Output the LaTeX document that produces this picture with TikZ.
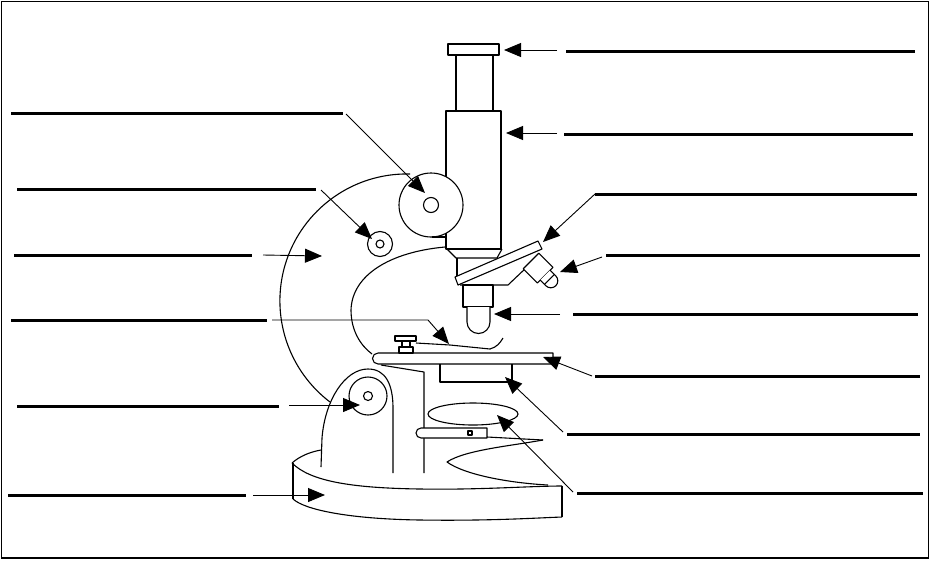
\documentclass[tikz,border=0pt]{standalone}
\usetikzlibrary{arrows.meta}
\begin{document}
\begin{tikzpicture}[x=1pt, y=-1pt,
    answerline/.style={line width=3pt},
    pointer/.style={line width=0.9pt, -{Triangle[length=17pt,width=14pt]}},
    part/.style={line width=1.1pt, line join=round}]
  \useasboundingbox (0,0) rectangle (933,560);
  \draw[line width=1.5pt] (1.5,1.5) rectangle (928.5,558);

  %%arm
    \draw[part](410,174) arc[start angle=-88.6, end angle=-232.7, radius=127];
    \draw[part](445,247) .. controls (390,252) and (352,275) .. (351,310)
      .. controls (351,330) and (360,345) .. (372,354);
  %%eyepiece and tube
    \draw[part](456,55) to (456,111);
    \draw[part](493,55) to (493,111);
    \draw[part, fill=white](448,44) rectangle (499,55);
    \draw[part, fill=white](446,111) rectangle (501,249);
  %%coarse knob
    \draw[part, fill=white](431,205) circle[radius=32];
    \draw[part](431,205) circle[radius=7.5];
    \draw[part](432,237) to (446,237);
  %%small knob
    \draw[part, fill=white](380,244) circle[radius=12.5];
    \draw[part](380,244) circle[radius=4];

  %%nosepiece
    \draw[part](447,249) -- (456,258) -- (497,258) -- (502,249);
    \draw[part](457,258) to (457,277);
    \draw[part, fill=white](455,277) -- (538,241) -- (542,249) -- (458,285) -- cycle;
    \draw[part](460,285) -- (508,285) -- (527,267);
  %%side objective
    \begin{scope}[shift={(531,261)}, rotate=-45]
      \draw[part, fill=white](0,-11) rectangle (20,11);
      \draw[part, fill=white](20,-7) -- (28,-7) arc[start angle=-90, end angle=90, radius=7] -- (20,7);
      \draw[part](26,-7) to (26,7);
    \end{scope}
  %%objective
    \draw[part, fill=white](463,285) rectangle (493,307);
    \draw[part, fill=white](467,307) -- (467,322) arc[start angle=180, end angle=0, radius=11.5] -- (490,307);

  %%stage
    \draw[part, fill=white](378,353) -- (553,353) -- (553,364) -- (378,364) arc[start angle=90, end angle=270, radius=5.5];
    \draw[part, fill=white](395,336) rectangle (416,341);
    \draw[part, fill=white](402,341) rectangle (410,347);
    \draw[part, fill=white](399,347) rectangle (413,353);
    \draw[part](416,343) -- (450,345) -- (490,349);
    \draw[part](490,349) .. controls (497,347) and (500,343) .. (503,338);
  %%condenser and pillar
    \draw[part](440,364) -- (440,382) -- (512,382) -- (512,364);
    \draw[part](381,365) -- (424,372) -- (424,473);
  %%fine knob housing
    \draw[part](321,467) -- (322,438) .. controls (325,400) and (345,369) .. (368,369)
      .. controls (386,369) and (393,385) .. (393,408) -- (393,473);
    \draw[part, fill=white](368,396) circle[radius=19];
    \draw[part](368,396) circle[radius=4.5];

  %%diaphragm, lever, mirror
    \draw[part](473,414) ellipse[x radius=45, y radius=11];
    \draw[part, fill=white](487,428) -- (421,428) arc[start angle=-90, end angle=-270, radius=5] -- (487,438) -- cycle;
    \draw[part](468,431) rectangle (472,435);
    \draw[part](487,437) to (543,440);
    \draw[part](543,440) .. controls (510,446) and (465,450) .. (447,462)
      .. controls (465,475) and (510,483) .. (548,485);
  %%base
    \draw[part](292,463) .. controls (300,456) and (310,452) .. (321,450);
    \draw[part](292,463) .. controls (310,481) and (350,488) .. (420,489)
      .. controls (480,490) and (530,486) .. (562,486);
    \draw[part](293,463) to (293,499);
    \draw[part](293,499) .. controls (305,510) and (350,519) .. (420,520)
      .. controls (490,521) and (535,518) .. (562,517);
    \draw[part](562,486) to (562,517);

  %%left labels
    \coordinate (l1a) at (11,113);  \coordinate (l1b) at (343,113);
    \coordinate (l1s) at (346,114); \coordinate (l1t) at (425,193);
    \coordinate (l2a) at (17,189);  \coordinate (l2b) at (316,189);
    \coordinate (l2s) at (321,190); \coordinate (l2t) at (372,239);
    \coordinate (l3a) at (14,255);  \coordinate (l3b) at (252,255);
    \coordinate (l3s) at (263,255); \coordinate (l3t) at (322,256);
    \coordinate (l4a) at (11,320);  \coordinate (l4b) at (267,320);
    \coordinate (l4s) at (272,320); \coordinate (l4k) at (428,320);
    \coordinate (l4t) at (449,344);
    \coordinate (l5a) at (17,406);  \coordinate (l5b) at (279,406);
    \coordinate (l5s) at (289,405); \coordinate (l5t) at (360,405);
    \coordinate (l6a) at (8,495);   \coordinate (l6b) at (246,495);
    \coordinate (l6s) at (253,495); \coordinate (l6t) at (325,495);
    \draw[answerline](l1a) to (l1b);
    \draw[pointer](l1s) to (l1t);
    \draw[answerline](l2a) to (l2b);
    \draw[pointer](l2s) to (l2t);
    \draw[answerline](l3a) to (l3b);
    \draw[pointer](l3s) to (l3t);
    \draw[answerline](l4a) to (l4b);
    \draw[pointer](l4s) -- (l4k) -- (l4t);
    \draw[answerline](l5a) to (l5b);
    \draw[pointer](l5s) to (l5t);
    \draw[answerline](l6a) to (l6b);
    \draw[pointer](l6s) to (l6t);

  %%right labels
    \coordinate (r1a) at (566,51);  \coordinate (r1b) at (915,51);
    \coordinate (r1s) at (557,50);  \coordinate (r1t) at (504,50);
    \coordinate (r2a) at (564,134); \coordinate (r2b) at (913,134);
    \coordinate (r2s) at (557,133); \coordinate (r2t) at (506,133);
    \coordinate (r3a) at (595,194); \coordinate (r3b) at (917,194);
    \coordinate (r3s) at (595,194); \coordinate (r3t) at (543,242);
    \coordinate (r4a) at (606,255); \coordinate (r4b) at (920,255);
    \coordinate (r4s) at (602,257); \coordinate (r4t) at (560,272);
    \coordinate (r5a) at (573,314); \coordinate (r5b) at (918,314);
    \coordinate (r5s) at (560,314); \coordinate (r5t) at (494,314);
    \coordinate (r6a) at (595,376); \coordinate (r6b) at (920,376);
    \coordinate (r6s) at (592,376); \coordinate (r6t) at (543,357);
    \coordinate (r7a) at (567,434); \coordinate (r7b) at (920,434);
    \coordinate (r7s) at (563,432); \coordinate (r7t) at (505,377);
    \coordinate (r8a) at (577,493); \coordinate (r8b) at (923,493);
    \coordinate (r8s) at (573,492); \coordinate (r8t) at (497,415);
    \draw[answerline](r1a) to (r1b);
    \draw[pointer](r1s) to (r1t);
    \draw[answerline](r2a) to (r2b);
    \draw[pointer](r2s) to (r2t);
    \draw[answerline](r3a) to (r3b);
    \draw[pointer](r3s) to (r3t);
    \draw[answerline](r4a) to (r4b);
    \draw[pointer](r4s) to (r4t);
    \draw[answerline](r5a) to (r5b);
    \draw[pointer](r5s) to (r5t);
    \draw[answerline](r6a) to (r6b);
    \draw[pointer](r6s) to (r6t);
    \draw[answerline](r7a) to (r7b);
    \draw[pointer](r7s) to (r7t);
    \draw[answerline](r8a) to (r8b);
    \draw[pointer](r8s) to (r8t);
\end{tikzpicture}
\end{document}
